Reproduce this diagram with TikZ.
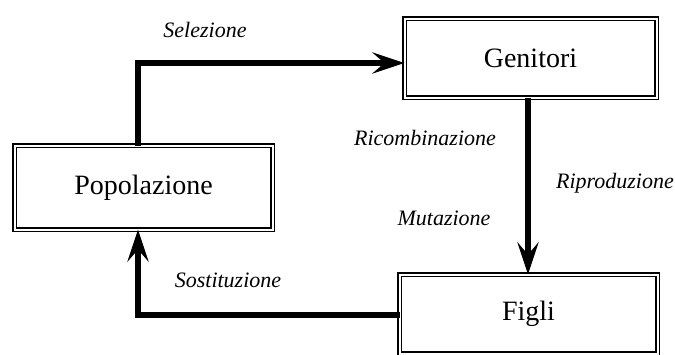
\documentclass[tikz,border=0pt]{standalone}
\usepackage{fontspec}
\setmainfont{Liberation Serif}
\usetikzlibrary{arrows.meta}
\begin{document}
\begin{tikzpicture}[x=1pt,y=-1pt,
  box/.style={draw,double,line width=1.6pt,double distance=2pt,inner sep=0pt,outer sep=0pt,
    font=\fontsize{28}{32}\selectfont},
  flow/.style={line width=6pt,-{Stealth[length=32pt,width=21pt,inset=12pt]}},
  lbl/.style={font=\fontsize{22}{26}\selectfont\itshape,inner sep=0pt}]
\useasboundingbox (0,0) rectangle (675,354);
\clip (0,0) rectangle (675,354);
\node[box,minimum width=258pt,minimum height=84pt] (pop) at (143.5,187.5) {Popolazione};
\node[box,minimum width=252pt,minimum height=79pt] (gen) at (530.5,58) {Genitori};
\node[box,minimum width=258pt,minimum height=79pt] (fig) at (528.5,314) {Figli};
\coordinate (c1) at (138,63);
\coordinate (c2) at (138,315);
\draw[flow] (pop.north -| c1) -- (c1) -- (gen.west |- c1);
\draw[flow] (gen.south -| 528,0) -- (fig.north -| 528,0);
\draw[flow] (fig.west |- c2) -- (c2) -- (pop.south -| c2);
\node[lbl] (sel) at (205,30) {Selezione};
\node[lbl] (ric) at (425,138) {Ricombinazione};
\node[lbl] (rip) at (615,183) {Riproduzione};
\node[lbl] (mut) at (444,218) {Mutazione};
\node[lbl] (sos) at (228,280) {Sostituzione};
\end{tikzpicture}
\end{document}
